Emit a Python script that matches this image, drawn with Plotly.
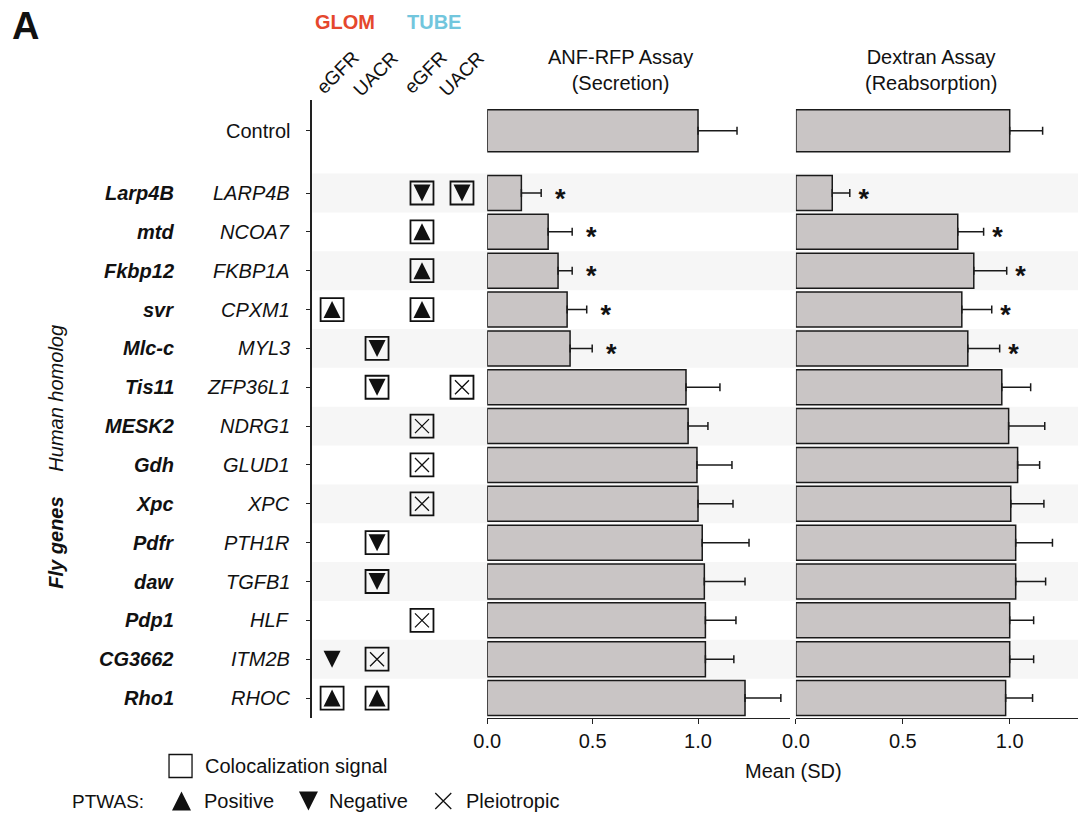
import numpy as np
import plotly.graph_objects as go

W, H = 1078, 813
FONT = "Liberation Sans, Arial, sans-serif"
INK = "#111111"

# ---------------- data ----------------
human_labels = ["Control", "LARP4B", "NCOA7", "FKBP1A", "CPXM1", "MYL3", "ZFP36L1", "NDRG1",
                "GLUD1", "XPC", "PTH1R", "TGFB1", "HLF", "ITM2B", "RHOC"]
fly_labels = ["", "Larp4B", "mtd", "Fkbp12", "svr", "Mlc-c", "Tis11", "MESK2",
              "Gdh", "Xpc", "Pdfr", "daw", "Pdp1", "CG3662", "Rho1"]

anf_mean = [1.00, 0.162, 0.289, 0.336, 0.379, 0.393, 0.943, 0.953,
            0.995, 1.000, 1.020, 1.030, 1.035, 1.035, 1.223]
anf_sd = [0.185, 0.094, 0.114, 0.067, 0.093, 0.105, 0.161, 0.094,
          0.166, 0.166, 0.222, 0.193, 0.145, 0.135, 0.170]
anf_sig = [False, True, True, True, True, True, False, False,
           False, False, False, False, False, False, False]

dex_mean = [1.00, 0.170, 0.757, 0.832, 0.776, 0.804, 0.963, 0.995,
            1.037, 1.005, 1.028, 1.028, 1.000, 1.000, 0.981]
dex_sd = [0.154, 0.082, 0.121, 0.154, 0.140, 0.149, 0.135, 0.169,
          0.103, 0.155, 0.172, 0.140, 0.112, 0.112, 0.126]
dex_sig = [False, True, True, True, True, True, False, False,
           False, False, False, False, False, False, False]

col_names = ["GLOM eGFR", "GLOM UACR", "TUBE eGFR", "TUBE UACR"]
sym_gene = ["Larp4B", "Larp4B", "mtd", "Fkbp12", "svr", "svr", "Mlc-c", "Tis11", "Tis11",
            "MESK2", "Gdh", "Xpc", "Pdfr", "daw", "Pdp1", "CG3662", "CG3662", "Rho1", "Rho1"]
sym_col = ["TUBE eGFR", "TUBE UACR", "TUBE eGFR", "TUBE eGFR", "GLOM eGFR", "TUBE eGFR",
           "GLOM UACR", "GLOM UACR", "TUBE UACR", "TUBE eGFR", "TUBE eGFR", "TUBE eGFR",
           "GLOM UACR", "GLOM UACR", "TUBE eGFR", "GLOM eGFR", "GLOM UACR", "GLOM eGFR", "GLOM UACR"]
sym_dir = ["Negative", "Negative", "Positive", "Positive", "Positive", "Positive",
           "Negative", "Negative", "Pleiotropic", "Pleiotropic", "Pleiotropic", "Pleiotropic",
           "Negative", "Negative", "Pleiotropic", "Negative", "Pleiotropic", "Positive", "Positive"]
sym_coloc = [True, True, True, True, True, True, True, True, True, True, True, True,
             True, True, True, False, True, True, True]

# ---------------- layout helpers ----------------
# horizontal calibration of the rendered page (observed: x_shown = OFF + SCL * x_paper_px)
OFF, SCL = 13.3, 0.988

def px(x):
    return (x - OFF) / SCL / W

def py(y):
    return 1 - y / H

ROW_PX = 38.85
y_pos = np.r_[-1.6, np.arange(len(fly_labels) - 1)]
bar_w = np.r_[1.08, np.full(len(fly_labels) - 1, 0.9)]
y_top, y_bot = (100 - 193) / ROW_PX, (718 - 193) / ROW_PX
col_x = dict(zip(col_names, [0, 1, 2, 2.89]))
gene_y = dict(zip(fly_labels[1:], y_pos[1:]))
TRI_OFF = 8.5 / ROW_PX

fig = go.Figure()

# ---- symbol grid ----
sx = np.array([col_x[c] for c in sym_col])
sy = np.array([gene_y[g] for g in sym_gene])
sd_ = np.array(sym_dir)
sc_ = np.array(sym_coloc)
fig.add_trace(go.Scatter(x=sx[sc_], y=sy[sc_], mode="markers", xaxis="x", yaxis="y",
                         marker=dict(symbol="square-open", size=23, color=INK,
                                     line=dict(width=1.8, color=INK)),
                         hoverinfo="skip", showlegend=False))
m = sd_ == "Positive"
fig.add_trace(go.Scatter(x=sx[m], y=sy[m] - TRI_OFF, mode="markers", xaxis="x", yaxis="y",
                         marker=dict(symbol="arrow-up", size=17, color=INK, line=dict(width=0)),
                         hoverinfo="skip", showlegend=False))
m = sd_ == "Negative"
fig.add_trace(go.Scatter(x=sx[m], y=sy[m] + TRI_OFF, mode="markers", xaxis="x", yaxis="y",
                         marker=dict(symbol="arrow-down", size=17, color=INK, line=dict(width=0)),
                         hoverinfo="skip", showlegend=False))
m = sd_ == "Pleiotropic"
fig.add_trace(go.Scatter(x=sx[m], y=sy[m], mode="markers", xaxis="x", yaxis="y",
                         marker=dict(symbol="x-thin-open", size=14, color=INK,
                                     line=dict(width=1.3, color=INK)),
                         hoverinfo="skip", showlegend=False))

# ---- bars ----
BAR_FILL = "#c9c5c5"
for xa, mean, sd, sig, off in [("x2", anf_mean, anf_sd, anf_sig, 0.09),
                               ("x3", dex_mean, dex_sd, dex_sig, 0.065)]:
    fig.add_trace(go.Bar(x=mean, y=y_pos, width=bar_w, orientation="h",
                         xaxis=xa, yaxis="y",
                         marker=dict(color=BAR_FILL, line=dict(color="#1a1a1a", width=1.5)),
                         error_x=dict(type="data", symmetric=False, array=sd,
                                      arrayminus=[0] * len(sd), color="#1a1a1a",
                                      thickness=1.5, width=4),
                         hoverinfo="skip", showlegend=False))
    mean_a, sd_a, sig_a = np.array(mean), np.array(sd), np.array(sig)
    fig.add_trace(go.Scatter(x=(mean_a + sd_a + off)[sig_a], y=y_pos[sig_a] + 0.2,
                             mode="text", text=["<b>*</b>"] * int(sig_a.sum()),
                             textfont=dict(size=27, family=FONT, color=INK),
                             xaxis=xa, yaxis="y", hoverinfo="skip", showlegend=False))

# ---- legend keys (pixel overlay axis, calibrated so x equals the shown pixel) ----
fig.add_trace(go.Scatter(x=[180], y=[766], mode="markers", xaxis="x4", yaxis="y4",
                         marker=dict(symbol="square-open", size=23, color=INK, line=dict(width=1.3)),
                         hoverinfo="skip", showlegend=False))
fig.add_trace(go.Scatter(x=[181], y=[801 - 9.5], mode="markers", xaxis="x4", yaxis="y4",
                         marker=dict(symbol="arrow-up", size=19, color=INK, line=dict(width=0)),
                         hoverinfo="skip", showlegend=False))
fig.add_trace(go.Scatter(x=[308], y=[801 + 9.5], mode="markers", xaxis="x4", yaxis="y4",
                         marker=dict(symbol="arrow-down", size=19, color=INK, line=dict(width=0)),
                         hoverinfo="skip", showlegend=False))
fig.add_trace(go.Scatter(x=[443], y=[801], mode="markers", xaxis="x4", yaxis="y4",
                         marker=dict(symbol="x-thin-open", size=16, color=INK, line=dict(width=1.3, color=INK)),
                         hoverinfo="skip", showlegend=False))

# ---- row bands ----
shapes = []
for i, yv in enumerate(y_pos[1:]):
    if i % 2 == 0:
        shapes.append(dict(type="rect", xref="paper", yref="y", x0=px(312), x1=1,
                           y0=yv - 0.5, y1=yv + 0.5, fillcolor="#f6f6f6",
                           line=dict(width=0), layer="below"))

# ---- annotations ----
ann = []
def text(x, y, t, size=20, xanchor="center", yanchor="middle", yref="paper", angle=0, color=INK):
    ann.append(dict(x=x, y=y, xref="paper", yref=yref, text=t, showarrow=False,
                    xanchor=xanchor, yanchor=yanchor, textangle=angle,
                    font=dict(size=size, family=FONT, color=color)))

for f, h, yv in zip(fly_labels, human_labels, y_pos):
    if f:
        text(px(175), yv, f"<b><i>{f}</i></b>", xanchor="right", yref="y")
        text(px(292), yv, f"<i>{h}</i>", xanchor="right", yref="y")
    else:
        text(px(292), yv, h, xanchor="right", yref="y")

text(px(25), py(26), "<b>A</b>", size=38)
text(px(345), py(22), "<b>GLOM</b>", size=20, color="#e5472d")
text(px(434), py(22), "<b>TUBE</b>", size=20, color="#72c6dd")
for t, cx, cy in [("eGFR", 337, 72), ("UACR", 376, 74), ("eGFR", 425, 72), ("UACR", 462, 74)]:
    text(px(cx), py(cy), t, size=19, angle=-45)
text(px(620), py(70), "ANF-RFP Assay<br>(Secretion)", size=20)
text(px(931), py(70), "Dextran Assay<br>(Reabsorption)", size=20)
text(px(794), py(771), "Mean (SD)", size=20)
text(px(55), py(398), "<i>Human homolog</i>", size=20, angle=-90)
text(px(55), py(543), "<b><i>Fly genes</i></b>", size=20, angle=-90)
text(px(202), py(766), "Colocalization signal", size=20, xanchor="left")
text(px(145), py(801), "PTWAS:", size=19, xanchor="right")
text(px(201), py(801), "Positive", size=20, xanchor="left")
text(px(327), py(801), "Negative", size=20, xanchor="left")
text(px(464), py(801), "Pleiotropic", size=20, xanchor="left")

bar_axis = dict(showline=True, linecolor="#222", linewidth=1.3, ticks="outside", ticklen=5,
                tickwidth=1.3, tickcolor="#222", tickvals=[0, 0.5, 1.0],
                ticktext=["0.0", "0.5", "1.0"], tickfont=dict(size=20, family=FONT, color=INK),
                showgrid=False, zeroline=False, anchor="y", fixedrange=True)

fig.update_layout(
    width=W, height=H, margin=dict(l=0, r=0, t=0, b=0),
    paper_bgcolor="white", plot_bgcolor="rgba(0,0,0,0)",
    font=dict(family=FONT, size=20, color=INK),
    showlegend=False, barmode="overlay",
    xaxis=dict(domain=[px(312), px(480)], range=[-0.438, 3.296], visible=False,
               anchor="y", fixedrange=True),
    yaxis=dict(domain=[py(718), py(100)], range=[y_bot, y_top], anchor="x",
               showline=True, linecolor="#222", linewidth=1.5, ticks="outside",
               ticklen=5, tickwidth=1.3, tickcolor="#222", tickvals=list(y_pos),
               showticklabels=False, showgrid=False, zeroline=False, fixedrange=True),
    xaxis2=dict(domain=[px(487), px(790)], range=[0, 303 / 211], **bar_axis),
    xaxis3=dict(domain=[px(796), min(1, px(1078))], range=[0, 282 / 214], **bar_axis),
    xaxis4=dict(domain=[0, 1], range=[OFF, OFF + SCL * W], visible=False, anchor="y4", fixedrange=True),
    yaxis4=dict(domain=[0, 1], range=[H, 0], visible=False, anchor="x4", fixedrange=True),
    shapes=shapes, annotations=ann,
)

fig.write_html(
    "out.html",
    config={"responsive": False, "displayModeBar": False},
    post_script="document.documentElement.style.margin='0';document.body.style.margin='0';"
                "document.body.style.overflow='hidden';document.documentElement.style.overflow='hidden';",
)
